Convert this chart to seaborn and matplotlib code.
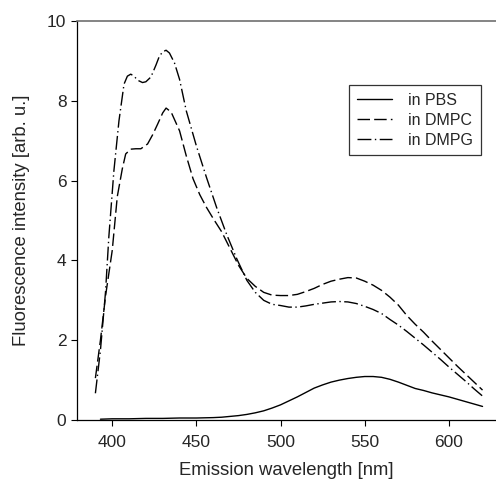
import numpy as np
import pandas as pd
import matplotlib
matplotlib.use("Agg")
import matplotlib.pyplot as plt
import seaborn as sns

# emission spectra (wavelength in nm, intensity in arb. u.)
wl_pbs = [393, 400, 410, 420, 430, 440, 450, 460, 465, 470, 475, 480, 485, 490,
          495, 500, 505, 510, 515, 520, 525, 530, 535, 540, 545, 550, 555, 560,
          565, 570, 575, 580, 585, 590, 595, 600, 605, 610, 615, 620]
pbs = [0.02, 0.03, 0.03, 0.04, 0.04, 0.05, 0.05, 0.06, 0.07, 0.09, 0.11, 0.14,
       0.18, 0.23, 0.30, 0.38, 0.48, 0.58, 0.69, 0.80, 0.88, 0.95, 1.00, 1.04,
       1.07, 1.09, 1.09, 1.07, 1.02, 0.95, 0.87, 0.79, 0.74, 0.68, 0.63, 0.58,
       0.52, 0.46, 0.40, 0.34]

wl_dmpc = [390, 393, 396, 400, 403, 406, 408, 411, 414, 417, 421, 424, 427, 430,
           432, 435, 440, 444, 448, 452, 456, 460, 465, 470, 475, 480, 485, 490,
           495, 500, 505, 510, 515, 520, 525, 530, 535, 540, 545, 550, 555, 560,
           565, 570, 575, 580, 585, 590, 595, 600, 605, 610, 615, 620]
dmpc = [1.05, 2.0, 3.1, 4.25, 5.6, 6.3, 6.67, 6.79, 6.8, 6.8, 6.92, 7.15, 7.42,
        7.7, 7.82, 7.72, 7.25, 6.62, 6.05, 5.65, 5.33, 5.05, 4.72, 4.3, 3.88,
        3.55, 3.35, 3.2, 3.13, 3.12, 3.12, 3.15, 3.22, 3.3, 3.4, 3.48, 3.53,
        3.57, 3.56, 3.48, 3.38, 3.25, 3.08, 2.88, 2.62, 2.4, 2.2, 1.98, 1.77,
        1.56, 1.35, 1.15, 0.95, 0.75]

wl_dmpg = [390, 393, 396, 398, 401, 404, 407, 409, 411, 413, 415, 418, 420, 423,
           426, 428, 430, 432, 434, 437, 440, 444, 450, 456, 462, 468, 474, 480,
           485, 490, 495, 500, 505, 510, 515, 520, 525, 530, 535, 540, 545, 550,
           555, 560, 565, 570, 575, 580, 585, 590, 595, 600, 605, 610, 615, 620]
dmpg = [0.67, 1.75, 3.2, 4.6, 6.25, 7.5, 8.42, 8.62, 8.67, 8.62, 8.52, 8.46,
        8.48, 8.6, 8.9, 9.12, 9.23, 9.27, 9.2, 8.95, 8.54, 7.75, 6.87, 6.08,
        5.33, 4.65, 4.04, 3.5, 3.2, 3.0, 2.9, 2.87, 2.83, 2.83, 2.86, 2.9, 2.93,
        2.96, 2.97, 2.96, 2.92, 2.85, 2.77, 2.67, 2.52, 2.38, 2.22, 2.05, 1.88,
        1.7, 1.52, 1.33, 1.15, 0.97, 0.78, 0.6]

labels = ["in PBS", "in DMPC", "in DMPG"]

df = pd.concat([
    pd.DataFrame({"wl": wl_pbs, "intensity": pbs, "medium": labels[0]}),
    pd.DataFrame({"wl": wl_dmpc, "intensity": dmpc, "medium": labels[1]}),
    pd.DataFrame({"wl": wl_dmpg, "intensity": dmpg, "medium": labels[2]}),
])

sns.set_style("ticks")
plt.rcParams["font.family"] = ["Liberation Sans", "DejaVu Sans"]

fig = plt.figure(figsize=(4.96, 4.8), dpi=100)
ax = fig.add_axes([0.155, 0.125, 0.845, 0.831])

sns.lineplot(data=df, x="wl", y="intensity", style="medium", style_order=labels,
             dashes={labels[0]: "", labels[1]: (9, 3), labels[2]: (10, 2.5, 1, 2.5)},
             color="black", linewidth=1.0, sort=False, ax=ax)

ax.set_xlim(379, 628)
ax.set_ylim(0, 10)
ax.set_xticks([400, 450, 500, 550, 600])
ax.set_yticks([0, 2, 4, 6, 8, 10])
ax.tick_params(direction="out", length=4, width=0.8, color="black", labelsize=12.5)
ax.tick_params(axis="x", pad=7)
ax.set_xlabel("Emission wavelength [nm]", fontsize=13.3, labelpad=8.5)
ax.set_ylabel("Fluorescence intensity [arb. u.]", fontsize=13.3, labelpad=12)

for s in ["left", "bottom"]:
    ax.spines[s].set_color("black")
    ax.spines[s].set_linewidth(0.9)
ax.spines["top"].set_color("#707070")
ax.spines["top"].set_linewidth(1.2)
ax.spines["right"].set_visible(False)

leg = ax.legend(loc="upper right", bbox_to_anchor=(0.964, 0.84), borderaxespad=0,
                fancybox=False, frameon=True, fontsize=11.5, handlelength=2.2,
                handletextpad=1.0, borderpad=0.5, labelspacing=0.3, title=None)
leg.get_frame().set_edgecolor("black")
leg.get_frame().set_linewidth(0.9)

fig.savefig("out.png", dpi=100)
